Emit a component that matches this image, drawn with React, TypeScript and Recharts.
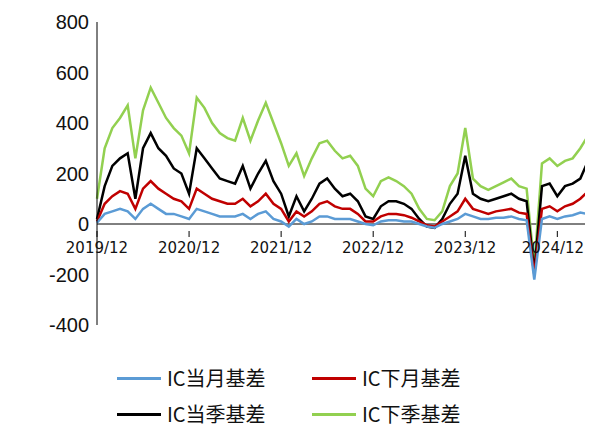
import React from "react";
import { LineChart, Line, XAxis, YAxis, ReferenceLine } from "recharts";

const months = ["2019/12","2020/01","2020/02","2020/03","2020/04","2020/05","2020/06","2020/07","2020/08","2020/09","2020/10","2020/11","2020/12","2021/01","2021/02","2021/03","2021/04","2021/05","2021/06","2021/07","2021/08","2021/09","2021/10","2021/11","2021/12","2022/01","2022/02","2022/03","2022/04","2022/05","2022/06","2022/07","2022/08","2022/09","2022/10","2022/11","2022/12","2023/01","2023/02","2023/03","2023/04","2023/05","2023/06","2023/07","2023/08","2023/09","2023/10","2023/11","2023/12","2024/01","2024/02","2024/03","2024/04","2024/05","2024/06","2024/07","2024/08","2024/09","2024/10","2024/11","2024/12","2025/01","2025/02","2025/03","2025/04"];
const green = [100,300,380,420,470,260,450,540,480,420,380,350,280,500,460,400,360,340,330,420,330,410,480,400,320,230,280,190,260,320,330,290,260,270,230,140,110,170,185,170,150,120,60,20,15,50,150,200,380,180,150,135,150,165,180,150,140,-170,240,260,230,250,260,300,350];
const black = [20,150,230,260,280,100,300,360,300,270,220,200,120,300,260,220,180,170,160,230,140,200,250,170,120,30,110,50,100,160,180,140,110,120,90,30,20,70,90,90,80,60,20,-10,-15,20,80,120,270,120,100,90,100,110,120,100,90,-190,150,160,110,150,160,180,250];
const red = [10,80,110,130,120,60,140,170,140,120,100,90,60,140,120,100,90,80,80,100,70,90,120,80,60,10,50,30,50,80,90,70,60,60,40,10,10,30,40,40,35,25,10,-5,-10,10,30,50,100,60,50,40,50,55,60,45,40,-200,60,70,50,70,80,100,130];
const blue = [5,40,50,60,50,20,60,80,60,40,40,30,20,60,50,40,30,30,30,40,20,40,50,20,10,-10,20,0,10,30,30,20,20,20,10,0,-5,10,15,15,10,10,0,-10,-15,0,10,20,40,30,20,20,25,25,30,20,15,-220,20,30,20,30,35,45,40];
const yTicks = [-400,-200,0,200,400,600,800];
const xTicks = ["2019/12","2020/12","2021/12","2022/12","2023/12","2024/12"];

const data = months.map((m, i) => ({ m, g: green[i], k: black[i], r: red[i], b: blue[i] }));

const ZERO_SHIFT = 101;
const XTick = (props: any) => {
  const { x, y, payload } = props;
  const yy = y - ZERO_SHIFT;
  const tx = Math.min(x, 545);
  return (
    <g>
      <line x1={x} x2={x} y1={yy - 1} y2={yy + 5} stroke="#000" />
      <text x={tx} y={yy + 21} textAnchor="middle" fontSize={15} fontFamily="DejaVu Sans" fill="#111">{payload.value}</text>
    </g>
  );
};

const Item = ({ color, label }: { color: string; label: string }) => (
  <div style={{ display: "flex", alignItems: "center", width: 195 }}>
    <div style={{ width: 44, height: 3, background: color, marginRight: 6 }} />
    <span style={{ fontSize: 20, fontFamily: "'Noto Sans CJK SC'", color: "#111", lineHeight: "24px" }}>{label}</span>
  </div>
);

export default function App() {
  return (
    <div style={{ width: 585 }}>
      <LineChart width={585} height={330} data={data} margin={{ top: 14, right: 5, bottom: 12, left: 29 }}>
        <YAxis type="number" domain={[-400, 800]} ticks={yTicks} width={60} axisLine={{ stroke: "#000" }} tickLine={false}
          tick={{ fontSize: 20, fontFamily: "Liberation Sans", fill: "#111" }} />
        <XAxis dataKey="m" ticks={xTicks} interval={0} height={1} axisLine={false} tickLine={false} tick={<XTick />} />
        <ReferenceLine y={0} stroke="#000" strokeWidth={1} />
        <Line dataKey="g" stroke="#92d050" strokeWidth={2.5} dot={false} isAnimationActive={false} />
        <Line dataKey="k" stroke="#000000" strokeWidth={2.5} dot={false} isAnimationActive={false} />
        <Line dataKey="r" stroke="#c00000" strokeWidth={2.5} dot={false} isAnimationActive={false} />
        <Line dataKey="b" stroke="#5b9bd5" strokeWidth={2.5} dot={false} isAnimationActive={false} />
      </LineChart>
      <div style={{ marginTop: 28, marginLeft: 109, display: "flex" }}>
        <Item color="#5b9bd5" label="IC当月基差" />
        <Item color="#c00000" label="IC下月基差" />
      </div>
      <div style={{ marginTop: 12, marginLeft: 109, display: "flex" }}>
        <Item color="#000000" label="IC当季基差" />
        <Item color="#92d050" label="IC下季基差" />
      </div>
    </div>
  );
}
